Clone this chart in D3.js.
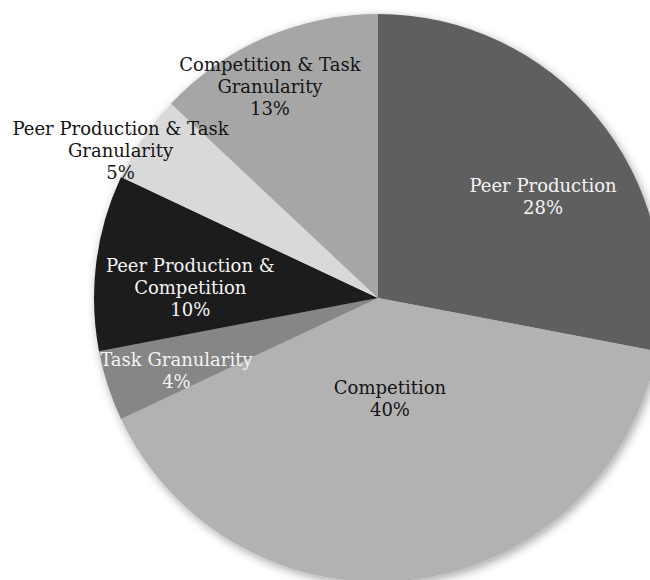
<!DOCTYPE html>
<html>
<head>
<meta charset="utf-8">
<script src="https://cdn.jsdelivr.net/npm/d3@7/dist/d3.min.js"></script>
<style>
  html, body { margin: 0; padding: 0; background: #fff; }
  svg { display: block; }
</style>
</head>
<body>
<svg id="chart" width="650" height="580"></svg>
<script>
// Share of approaches by category (percent), clockwise from 12 o'clock
const categories = [
  "Peer Production",
  "Competition",
  "Task Granularity",
  "Peer Production & Competition",
  "Peer Production & Task Granularity",
  "Competition & Task Granularity"
];
const values = [28, 40, 4, 10, 5, 13];

// Label text, one entry per line
const labelLines = [
  ["Peer Production", "28%"],
  ["Competition", "40%"],
  ["Task Granularity", "4%"],
  ["Peer Production &", "Competition", "10%"],
  ["Peer Production & Task", "Granularity", "5%"],
  ["Competition & Task", "Granularity", "13%"]
];

// Slice fills (greyscale)
const fills = ["#5f5f5f", "#b2b2b2", "#868686", "#1f1f1f", "#d9d9d9", "#a6a6a6"];
const textFills = ["#f4f4f4", "#141414", "#f4f4f4", "#f4f4f4", "#141414", "#141414"];

// Label placement: distance from centre and small angular nudge (degrees)
const labelRadius = [194, 101, 214, 188, 297, 238];
const labelNudge = [7.9, 0.4, -1.6, -3.9, -4.3, -3.6];

const W = 650, H = 580;
const cx = 378, cy = 298, R = 284;
const fontSize = 18, lineHeight = 22;

const svg = d3.select("#chart");

const defs = svg.append("defs");
const shadow = defs.append("filter")
  .attr("id", "pieShadow")
  .attr("x", "-20%").attr("y", "-20%")
  .attr("width", "140%").attr("height", "140%");
shadow.append("feDropShadow")
  .attr("dx", 2).attr("dy", 3)
  .attr("stdDeviation", 5)
  .attr("flood-color", "#000")
  .attr("flood-opacity", 0.35);

const pie = d3.pie().sort(null).value(d => d.value);
const data = categories.map((c, i) => ({ name: c, value: values[i], i }));
const arcs = pie(data);
const arc = d3.arc().innerRadius(0).outerRadius(R);

const g = svg.append("g").attr("transform", `translate(${cx},${cy})`);

g.append("g")
  .attr("filter", "url(#pieShadow)")
  .selectAll("path")
  .data(arcs)
  .join("path")
  .attr("d", arc)
  .attr("fill", d => fills[d.data.i]);

const labels = g.append("g")
  .attr("font-family", "'DejaVu Serif', serif")
  .attr("font-size", fontSize)
  .attr("text-anchor", "middle");

arcs.forEach(d => {
  const i = d.data.i;
  const a = (d.startAngle + d.endAngle) / 2 + labelNudge[i] * Math.PI / 180;
  const x = Math.sin(a) * labelRadius[i];
  const y = -Math.cos(a) * labelRadius[i];
  const lines = labelLines[i];
  const y0 = y - (lines.length - 1) * lineHeight / 2;
  const t = labels.append("text")
    .attr("fill", textFills[i])
    .attr("dominant-baseline", "central");
  lines.forEach((ln, k) => {
    t.append("tspan")
      .attr("x", x)
      .attr("y", y0 + k * lineHeight)
      .text(ln);
  });
});
</script>
</body>
</html>
